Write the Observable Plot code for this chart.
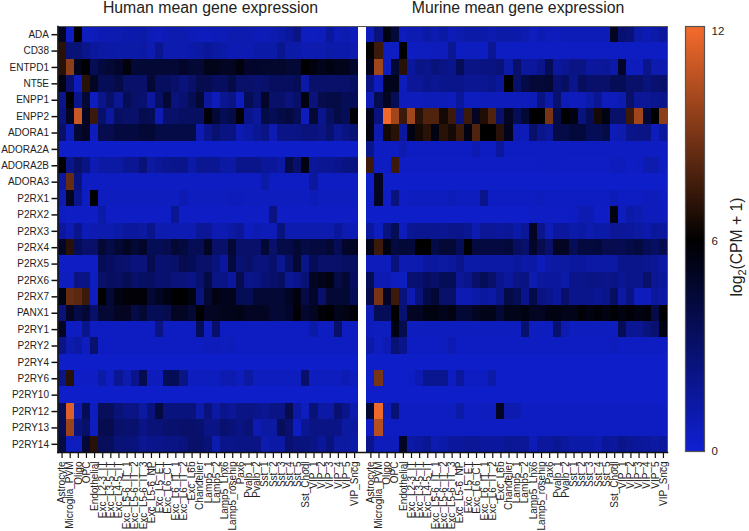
<!DOCTYPE html>
<html>
<head>
<meta charset="utf-8">
<script src="https://cdn.jsdelivr.net/npm/d3@7"></script>
<script src="https://cdn.jsdelivr.net/npm/@observablehq/plot@0.6"></script>
<style>
html,body{margin:0;padding:0;background:#fff;}
#wrap{position:relative;width:749px;height:531px;overflow:hidden;font-family:"Liberation Sans",Arial,sans-serif;color:#222;}
#wrap svg{position:absolute;left:0;top:0;background:transparent;}
.title{position:absolute;top:0;font-size:15.8px;line-height:16px;white-space:nowrap;transform:translateX(-50%);}
#barlabel{position:absolute;left:737px;top:247px;font-size:15.7px;white-space:nowrap;transform:translate(-50%,-50%) rotate(-90deg);}
#barlabel sub{font-size:11px;line-height:0;}
</style>
</head>
<body>
<div id="wrap">
<div class="title" style="left:210.5px">Human mean gene expression</div>
<div class="title" style="left:518px">Murine mean gene expression</div>
<div id="barlabel">log<sub>2</sub>(CPM + 1)</div>
</div>
<script>
const genes = ["ADA","CD38","ENTPD1","NT5E","ENPP1","ENPP2","ADORA1","ADORA2A","ADORA2B","ADORA3","P2RX1","P2RX2","P2RX3","P2RX4","P2RX5","P2RX6","P2RX7","PANX1","P2RY1","P2RY2","P2RY4","P2RY6","P2RY10","P2RY12","P2RY13","P2RY14"];
const cellTypes = ["Astrocyte","Microglia_PVM","Oligo","OPC","Endothelial","Exc_L2-3_IT","Exc_L3-5_IT","Exc_L4-5_IT","Exc_L5-6_IT_1","Exc_L5-6_IT_2","Exc_L5-6_IT_3","Exc_L5-6_NP","Exc_L5_ET","Exc_L6_CT","Exc_L6_IT_1","Exc_L6_IT_2","Exc_L6b","Chandelier","Lamp5_1","Lamp5_2","Lamp5_Lhx6","Lamp5_rosehip","Pax6","Pvalb_1","Pvalb_2","Sst_1","Sst_2","Sst_3","Sst_4","Sst_5","Sst_Chodl","VIP_1","VIP_2","VIP_3","VIP_4","VIP_5","VIP_Sncg"];
const colorTicks = [0,6,12];
const human = [
[5,.5,6,.6,.7,.9,.9,1,1.1,1.1, 1.2,.8,.7,.9,1,1,.8,.7,.7,.8, .8,1,1,1,.8,.8,1,1.2,1.5,2.2, .6,.6,.7,1.5,.8,1,.7],
[7,2.6,2.6,2,1.5,1.4,1.3,1.2,1.2,1.2, 1.3,1,1.9,1,1,1,1.1,1.4,1.6,1.4, 1.2,.9,.9,.9,1.2,1.2,1.2,1.9,1.2,1.2, .9,1,1,1.2,1.1,1.1,1],
[7,9.5,5.2,6,3.5,4.2,4.5,4.8,5.7,4.5, 4.5,4.5,4.5,4.5,4.5,4.8,4.5,4.5,5.3,5.3, 5,5,5.6,4.8,4.8,4.7,4.7,4.7,4.5,4.5, 6,5.6,5.2,5.5,5.2,5.2,4.7],
[5.5,3,.7,7,5,3.5,3.5,4,3,3, 3,4.5,3.3,3.3,3,2.5,3,3.8,3.8,3.3, 3.3,4,3,3,2.8,3,3.3,3.3,3.3,3.5, 1.3,3,3,3,3,3,3.2],
[2,6,2,4.5,.6,2,3,1.8,3.5,3, 2.8,1.5,3.2,4.5,2.5,2.8,3.5,4.5,1.5,.7, 1.8,2.2,.7,3.5,2.8,4.8,3,3,2.5,3, 5.5,2.5,3.8,4,4,3.5,3.5],
[2.5,5,11,5,7.5,3,1.5,3.2,3,3, 3.8,3.5,.9,3,3,3.2,3.2,3.2,5.8,4.5, 3.5,4,5.8,2,1.5,4,3.5,4,4.2,3.5, .7,4.5,2,3.2,4,3.5,5.8],
[3,.8,4.5,5,.7,3.8,3.8,4.2,4.2,4.2, 4.5,4.5,4,4,4,4,4,.9,2,2.8, 2.3,2.3,.9,1.3,1.8,2.2,.9,2.2,2.2,2.2, 2.5,2.5,2.2,2.8,1.8,2.3,2.7],
[.3,.3,.3,.3,.3,.3,.3,.3,.3,.3, .3,.3,.3,.3,.3,.3,.3,.3,.3,.3, .3,.3,.3,.3,.3,.3,.3,.3,.3,.3, .3,.3,.3,.3,.3,.3,.3],
[6,2,3,2.3,.9,1.3,1.3,1.4,1.8,1.8, 2.6,1.4,1.7,1.9,2,2,1.2,1.8,1.8,1.8, 1.3,1.3,2,2,2,1.6,1.6,1.3,4,3, 5.5,1.6,1.8,1.8,2,2.3,2.3],
[1.5,8.5,2.5,.5,.5,.5,.5,.5,.5,.5, .5,.5,.5,.5,.5,.5,.5,.5,.5,.5, .5,.5,.5,.5,.5,1.2,.5,.5,.5,.5, .5,1.5,.5,.5,.5,.5,.5],
[1,5,2,.5,6,.6,.6,.6,.6,.6, .6,.6,.6,.6,.6,.9,.6,.6,.6,.6, .6,.7,.7,.6,.6,.6,.6,.6,.6,.6, .6,.8,.6,.6,.6,.6,.6],
[.5,.4,.4,.4,.4,1.2,.4,.4,.4,.4, .4,.4,.4,.4,1.8,.4,.4,.4,.4,.4, .4,.4,.4,.4,.4,.4,2.3,.4,.4,.4, .4,.4,.4,.4,.4,.4,.4],
[1.5,.9,2,.8,.9,1,1,1.2,1.5,1.5, 1.4,2,1,1,.9,.9,.9,1.7,1.7,.9, .9,1.3,1.7,.7,.9,.8,.8,2.4,1,1, 1,1,1,1,1.6,1,.8],
[4.8,7,3.5,3,3,4.5,4,4.5,5,4.5, 4.8,3.5,3.5,3.8,4.5,4.2,3.6,3.6,5,3, 3,4.5,3,3,3,4.5,3,4,4,4.5, 4,4.2,4.2,4.5,3.5,4.8,5],
[.4,.4,.4,.4,.4,3.5,3.3,3,2.8,2.5, 2.5,3.8,2.8,2.8,3,3.8,3.5,3,3,2.5, 1.5,4.2,2.7,3,2.5,2.5,3,1.8,3.2,4.5, 2,3.5,3,3,3,3.2,3.2],
[.6,.6,2.2,2.2,.6,3,3.3,3.2,3.6,3, 3.2,3.2,2.8,2.8,2.5,2.5,2.2,2.8,4,2.2, 2.2,1.5,3.8,2,2.2,2.7,3,3.2,1.7,2, 2.7,5,5.3,5.5,4,4.5,3.3],
[5.5,8.5,8.3,7.5,.6,6,4.5,5.5,5.8,5.8, 5.8,4.5,5,5.5,6,6,5.5,2.5,4.5,5.5, 5.2,5.2,3.5,3.5,4.5,4.5,4.5,4.5,5,5.6, 4,4.8,3,4.5,4.5,4.5,3.5],
[2.5,5,4,4.5,3,4.5,4.5,5,5,4, 4.5,3.5,3.5,3.8,5,5,4.5,6,5,5, 5.2,5.2,5.4,5,5,5,4.5,4.5,4.8,5.8, 4.6,5,5.8,6,5.2,5.4,5.8],
[5,.5,.5,2,.5,.5,.5,.5,.5,.5, .5,.5,2.2,.5,.5,.5,.5,3.5,.5,3, .5,.5,.5,.5,.5,.5,.5,.5,.5,.5, .5,1.2,.5,.5,3,.5,.5],
[2.2,1,1.3,.6,2.8,.5,.5,.5,.5,.5, .5,.5,.5,.5,.5,.5,.5,.5,.7,.7, .6,.7,.5,.5,.5,.5,.5,.5,.5,.5, .5,.5,.5,.5,.5,.5,.5],
[.3,.3,.3,.3,.3,.3,.3,.3,.3,.3, .3,.3,.3,.3,.3,.3,.3,.3,.3,.3, .3,.3,.3,.3,.3,.3,.3,.3,.3,.3, .3,.3,.3,.3,.3,.3,.3],
[2.2,7,.4,.4,.4,1.2,.5,1.8,1,2, 3.8,.7,.7,3.5,3.5,2.2,.6,.6,.6,.6, .9,1,.6,1.4,.6,.6,.6,.6,.6,.6, 3,.6,.6,.6,.6,.9,.6],
[.3,.3,.3,.3,.3,.3,.3,.3,.3,.3, .3,.3,.3,.3,.3,.3,.3,.3,.3,.3, .3,.3,.3,.3,.3,.3,.3,.3,.3,.3, .3,.3,.3,.3,.3,.3,.3],
[3.5,11.5,1,3.5,.6,3.4,3.4,2.6,2.2,2.2, 1.4,2.4,4.2,2.4,2.4,2.4,2.4,1.2,2.5,1.3, 2,1.7,2.2,2.2,2,1.8,2.2,2.2,3.8,1.3, .6,2.6,1.3,1.3,2.8,2,1],
[3.6,9.8,2.4,3,.6,3.8,3.8,3,2.9,2.9, 2.2,2.6,2.6,2.9,2.9,3,3,2.9,2.2,2.2, 2.8,2.6,2.2,2.6,.9,1.4,1.4,3.4,2.8,.5, 1.8,2.2,2.2,2.2,2.2,1.4,1.4],
[4,.6,.6,4.5,7,3.4,3.4,2.6,2.6,2.4, 1.8,2,2,2.2,2.2,2.4,3,3,2.6,1, 2,2,2.2,2.2,2.2,1,1.3,1.3,2.8,2.4, 2.4,2.2,1.6,2.4,1.4,1.4,1.2]
];
const murine = [
[.7,2.5,5.5,4.3,.7,.9,.9,1.3,1,1.3, .8,1,1.2,1.2,1.2,1,1.2,1.2,1.1,1, .6,.9,.7,.7,.8,.8,.8,.8,.8,.8, 5,2.8,2.6,1.2,.9,1.2,1.5],
[6,7.5,.5,.5,6,.5,.6,.6,.7,.7, 1.8,.5,.6,.6,.5,1.8,.5,.5,.5,.5, .5,.5,.5,.5,.5,.5,.5,.5,.5,.5, .5,.5,.5,.5,.5,.5,.5],
[5.3,10,.6,4.5,7,1.5,2.2,2,2.5,2.2, 2,3.5,2.2,2.2,2.3,2.3,2.6,1.2,3,1.5, 1.5,2,3.5,1.5,1.8,2.2,2.2,1.5,1.5,1.7, 1.2,4.8,.7,.7,2,1,1],
[2.3,.7,5.3,5.2,.7,1.7,1.7,2,1.8,2, 2,2,1.8,1.8,1.8,2,1.6,6,3,4, 4.4,4.4,4.5,2.8,3.2,2,3.3,3,3,3, 3.5,3.5,3,3,2.4,2.8,3],
[.8,3.8,5,3.5,.7,.7,.7,.8,.8,.8, .7,1.6,.6,.6,.7,.7,.7,.7,.7,.7, .8,2.3,1.1,2.8,.8,.7,.7,1.2,1.8,.7, .7,1,3,1.7,1.7,1.9,2],
[5.2,2.5,12,10,7.5,10,7,8,8,6.5, 7.5,2.5,7.5,5,6.8,8,3,5,3.5,4.5, 6,6,9,4,6,5.5,2.5,3.5,6.5,5.5, 3,3,7.5,10,4.5,6,9.5],
[5.5,1,6.5,7,1.5,5.5,6.5,7,5.5,7, 6.5,7.5,5.5,8,6,6,7,5.2,.9,.8, 3,2,1.7,4,4,4.3,4.3,3.5,3.5,4, .8,1,2,2.2,2.2,.7,1.5],
[2,.5,.5,.5,1,.5,.5,.5,.5,.5, .5,.5,.5,.9,.5,.5,1.5,.5,.5,.5, .5,.5,.5,.5,.5,.5,.5,.5,.5,.5, .5,.5,.5,.5,.5,.5,.5],
[7.5,.5,.5,7.5,.4,.4,.4,.4,.4,.4, .4,.4,.4,.4,.4,.4,.4,.4,.4,.4, .4,.5,.5,.5,.4,.4,.4,.4,.4,.4, .7,.7,.4,.5,1,1,.5],
[.3,5,.3,.3,.3,.3,.3,.3,.3,.3, .3,.3,.3,.3,.3,.3,.3,.3,.3,.3, .3,.3,.3,.3,.3,.3,.3,.3,.3,.3, .3,.3,.3,.3,.3,.3,.3],
[.4,5,.4,2.5,.4,.6,.6,.6,.6,.6, .8,.6,.6,.6,2,.5,.5,.5,.5,.5, .5,.7,.5,.5,.5,.5,.5,.5,.5,.5, .8,.5,.5,.5,.7,.7,.5],
[.3,.3,.3,.3,.3,.3,.3,.3,.3,.3, .3,.3,.3,.3,.3,.3,.3,.3,.3,.3, .4,.4,.4,.4,.4,.5,.9,.9,.4,.4, 5.5,.6,1.2,1,.7,.7,.7],
[1.5,.6,2.5,3.5,.7,1.8,1.9,1.9,1.9,1.8, 2,2,1.8,1,1.7,1.7,1.5,1.7,1.2,1.7, 5,2,.8,1.5,1.5,1.2,1.3,1,1.2,1.2, 1.7,1.7,1.5,1.4,1.1,1.6,1.5],
[5.2,7.5,5.5,4.2,4.5,4.3,6,6,4,4.5, 4.5,3.5,6,4.2,4.2,4.2,4.2,4.3,3.3,3, 4.8,3.8,3,5,5,3.5,4.2,4.2,4.3,3.8, 3.8,3.7,4,4.2,3.5,3.2,3.8],
[.7,.7,.7,2.5,.9,1,1,1.5,1.5,1.4, 1.5,2,1.2,1.2,1.3,1.3,1.3,1.3,1.5,1.3, 1.3,.7,1.3,1.4,1.4,1.5,1.5,1.3,1.3,1.3, 1.3,2,2,2,1.9,1.7,1.3],
[3.5,.9,.9,.6,.6,2.8,2.8,3.3,3,3.5, 3.5,1.7,2,3,3.5,3,2,1.5,2.2,2.3, 1,1.5,1.5,1.5,1.2,2,2,2.2,2.2,2, 2.2,1.8,2,2,3,1.8,1.5],
[4,9,5,7.5,2.5,.9,2.5,4,4.5,3, 3,.9,.9,1.2,1.5,1.3,2,4,3.5,2, 4,2.3,2,1.5,3,2,2,2,1.8,2, 3.2,1.3,2.3,.7,.7,1.5,1.3],
[.8,3.5,3.5,6,2.8,5,5,5.5,5.5,5.2, 5.5,4.5,4.5,5,5.3,5.3,4.5,5.3,5.3,5.5, 5,5,5.5,5.5,5.3,5.3,5.8,5.5,5.8,5.5, 5.9,5.5,5.8,5.5,5.7,4,6],
[.7,.6,.6,5.5,3.8,.6,.6,.6,.6,.6, .6,.6,.6,.6,.6,.6,.6,.6,.6,2.8, .6,.6,.6,2.8,.9,.6,.6,.6,.6,.6, .6,3.5,1.8,1.8,2.5,2.8,5.5],
[1.2,.6,.9,2.7,2,.5,.5,.5,.5,.6, .9,.5,.5,.5,.5,.5,.5,.5,.5,.5, .5,.5,.5,.5,.5,.5,.5,.5,.5,.5, .7,.5,.5,.5,.5,.5,.5],
[.3,.3,.3,.3,.3,.3,.3,.3,.3,.3, .3,.3,.3,.3,.3,.3,.3,.3,.3,.3, .3,.3,.3,.3,.3,.3,.3,.3,.3,.3, .3,.3,.3,.3,.3,.3,.3],
[.3,9,.3,.3,.3,.4,.9,1.9,1.9,1.9, .5,1.5,.5,.5,.5,1.2,.3,.3,.3,.3, .3,.3,.3,.3,.3,.3,.3,.3,.3,.3, .3,.3,.3,.3,.3,.3,.3],
[.3,.3,.3,.3,.3,.3,.3,.3,.3,.3, .3,.3,.3,.3,.3,.3,.3,.3,.3,.3, .3,.3,.3,.3,.3,.3,.3,.3,.3,.3, .3,.3,.3,.3,.3,.3,.3],
[4.5,12,.8,2.7,.5,.5,.5,.5,.5,.5, .6,1.2,.5,.5,.6,.6,5,1,.9,.5, .5,.5,.5,.5,.5,.5,.5,.5,.5,.5, .5,.5,.5,.5,.5,.5,.5],
[.5,10.5,.5,.5,.5,.5,.5,.5,.5,.5, .5,.5,.5,.5,.5,.5,.5,.5,.5,.5, .5,.5,.5,.5,.5,.5,.5,.5,.5,.5, .5,.5,.5,.5,.5,.5,.5],
[2,.7,.7,.7,5,1.3,1.5,1.8,1,1.2, 1.5,1.5,1.7,1.7,1.5,1.5,1.5,1.8,1.7,1.7, .8,1.5,1.5,1.8,1.5,1.2,1.2,1.2,1,1.6, 1.5,2,1.8,1.6,1.5,1.4,1.5]
];

const colorScale = {type:"linear", domain:[0,6,12], range:["#0f20d2","#000000","#f0692c"], clamp:true};
const humanKeys = cellTypes.map(c => "Human|" + c);
const murineKeys = cellTypes.map(c => "Murine|" + c);
const xDomain = [...humanKeys, "gap", ...murineKeys];
const cells = [];
genes.forEach((g,i) => {
  cellTypes.forEach((c,j) => {
    cells.push({gene:g, key:humanKeys[j], v:human[i][j]});
    cells.push({gene:g, key:murineKeys[j], v:murine[i][j]});
  });
});

const main = Plot.plot({
  width:749, height:531,
  marginLeft:57.5, marginRight:82, marginTop:26, marginBottom:79,
  style:{fontFamily:"'Liberation Sans',Arial,sans-serif", fontSize:"10px", color:"#222", background:"transparent"},
  x:{type:"band", domain:xDomain, padding:0, round:false},
  y:{type:"band", domain:genes, padding:0, round:false},
  color:colorScale,
  marks:[
    Plot.cell(cells,{x:"key", y:"gene", fill:"v", shapeRendering:"crispEdges"}),
    Plot.frame({stroke:"#555", strokeWidth:1}),
    Plot.frame({anchor:"left", stroke:"#111", strokeWidth:1.5}),
    Plot.frame({anchor:"bottom", stroke:"#111", strokeWidth:1.5}),
    Plot.axisY({tickSize:6, tickPadding:3, label:null, stroke:"#111", strokeWidth:1.5, fontSize:10}),
    Plot.axisX({ticks:[...humanKeys,...murineKeys], tickSize:6, tickPadding:3, tickRotate:-90, label:null, stroke:"#111", strokeWidth:1.2, fontSize:10, tickFormat:d => d.split("|")[1]})
  ]
});
document.getElementById("wrap").appendChild(main);

const barSteps = d3.range(0, 12.14, 0.02);
const bar = Plot.plot({
  width:749, height:531,
  marginLeft:685, marginRight:45, marginTop:26, marginBottom:80,
  style:{fontFamily:"'Liberation Sans',Arial,sans-serif", fontSize:"11.5px", color:"#222", background:"transparent"},
  x:{domain:[0,1], axis:null},
  y:{domain:[0,12.14], axis:null},
  color:colorScale,
  marks:[
    Plot.rect(barSteps,{x1:0, x2:1, y1:d=>d, y2:d=>d+0.03, fill:d=>d, shapeRendering:"crispEdges"}),
    Plot.frame({stroke:"#555", strokeWidth:1.2}),
    Plot.axisY(colorTicks,{anchor:"right", tickSize:0, tickPadding:7, label:null, fontSize:11.5, tickFormat:d=>String(d)})
  ]
});
document.getElementById("wrap").appendChild(bar);
</script>
</body>
</html>
